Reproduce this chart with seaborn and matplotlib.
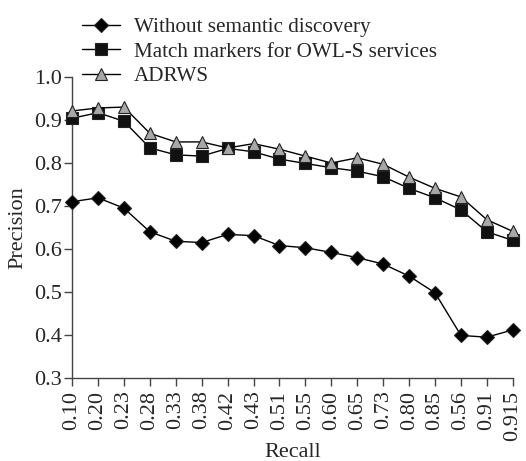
import matplotlib
matplotlib.use("Agg")
import matplotlib.pyplot as plt
import seaborn as sns
import pandas as pd

# ── данные ───────────────────────────────────────────────────────────────────

recall_labels = ["0.10", "0.20", "0.23", "0.28", "0.33", "0.38", "0.42", "0.43", "0.51",
                 "0.55", "0.60", "0.65", "0.73", "0.80", "0.85", "0.56", "0.91", "0.915"]

without_semantic = [0.710, 0.719, 0.695, 0.640, 0.618, 0.615, 0.634, 0.631, 0.608,
                    0.603, 0.592, 0.580, 0.565, 0.537, 0.498, 0.399, 0.395, 0.412]
match_markers = [0.904, 0.917, 0.897, 0.835, 0.819, 0.816, 0.834, 0.826, 0.809,
                 0.799, 0.789, 0.781, 0.768, 0.741, 0.719, 0.691, 0.640, 0.620]
adrws = [0.921, 0.928, 0.930, 0.869, 0.849, 0.849, 0.835, 0.845, 0.832,
         0.816, 0.800, 0.812, 0.797, 0.767, 0.741, 0.721, 0.668, 0.641]

series_names = ["Without semantic discovery", "Match markers for OWL-S services", "ADRWS"]
y_ticks = [0.3, 0.4, 0.5, 0.6, 0.7, 0.8, 0.9, 1.0]

sns.set_theme(style="ticks")
plt.rcParams["font.family"] = ["Liberation Serif", "DejaVu Serif"]

df = pd.DataFrame({
    "pos": list(range(len(recall_labels))),
    series_names[0]: without_semantic,
    series_names[1]: match_markers,
    series_names[2]: adrws,
})

styles = {
    series_names[0]: dict(marker="D", markersize=7, markerfacecolor="black"),
    series_names[1]: dict(marker="s", markersize=8, markerfacecolor="#111111"),
    series_names[2]: dict(marker="^", markersize=8.5, markerfacecolor="#a8a8a8"),
}

fig = plt.figure(figsize=(5.26, 4.61), dpi=100)
ax = fig.add_axes([0.137, 0.180, 0.838, 0.653])

for name in series_names:
    sns.lineplot(data=df, x="pos", y=name, ax=ax, color="black", linewidth=1.0,
                 markeredgecolor="#222222", markeredgewidth=0.8, label=name,
                 clip_on=False, zorder=3, **styles[name])

ax.set_xlim(0, len(recall_labels) - 1)
ax.set_ylim(0.3, 1.0)
ax.set_xticks(df["pos"])
ax.set_xticklabels(recall_labels, rotation=90, fontsize=16)
ax.set_yticks(y_ticks)
ax.set_yticklabels([f"{v:.1f}" for v in y_ticks], fontsize=16)
ax.set_xlabel("Recall", fontsize=16, labelpad=2)
ax.set_ylabel("Precision", fontsize=16, labelpad=5)

sns.despine(ax=ax)
for side in ["left", "bottom"]:
    ax.spines[side].set_color("#444444")
    ax.spines[side].set_linewidth(1.0)
ax.tick_params(axis="both", direction="out", length=6, width=1.0, color="#444444")
ax.tick_params(axis="x", pad=3)
ax.tick_params(axis="y", pad=1)

leg = ax.legend(loc="upper left", bbox_to_anchor=(0.156, 0.962), bbox_transform=fig.transFigure,
                frameon=False, fontsize=15.2, borderpad=0, borderaxespad=0,
                handlelength=1.8, handletextpad=0.65, labelspacing=0.22)

plt.savefig("out.png", dpi=100)
plt.close()
